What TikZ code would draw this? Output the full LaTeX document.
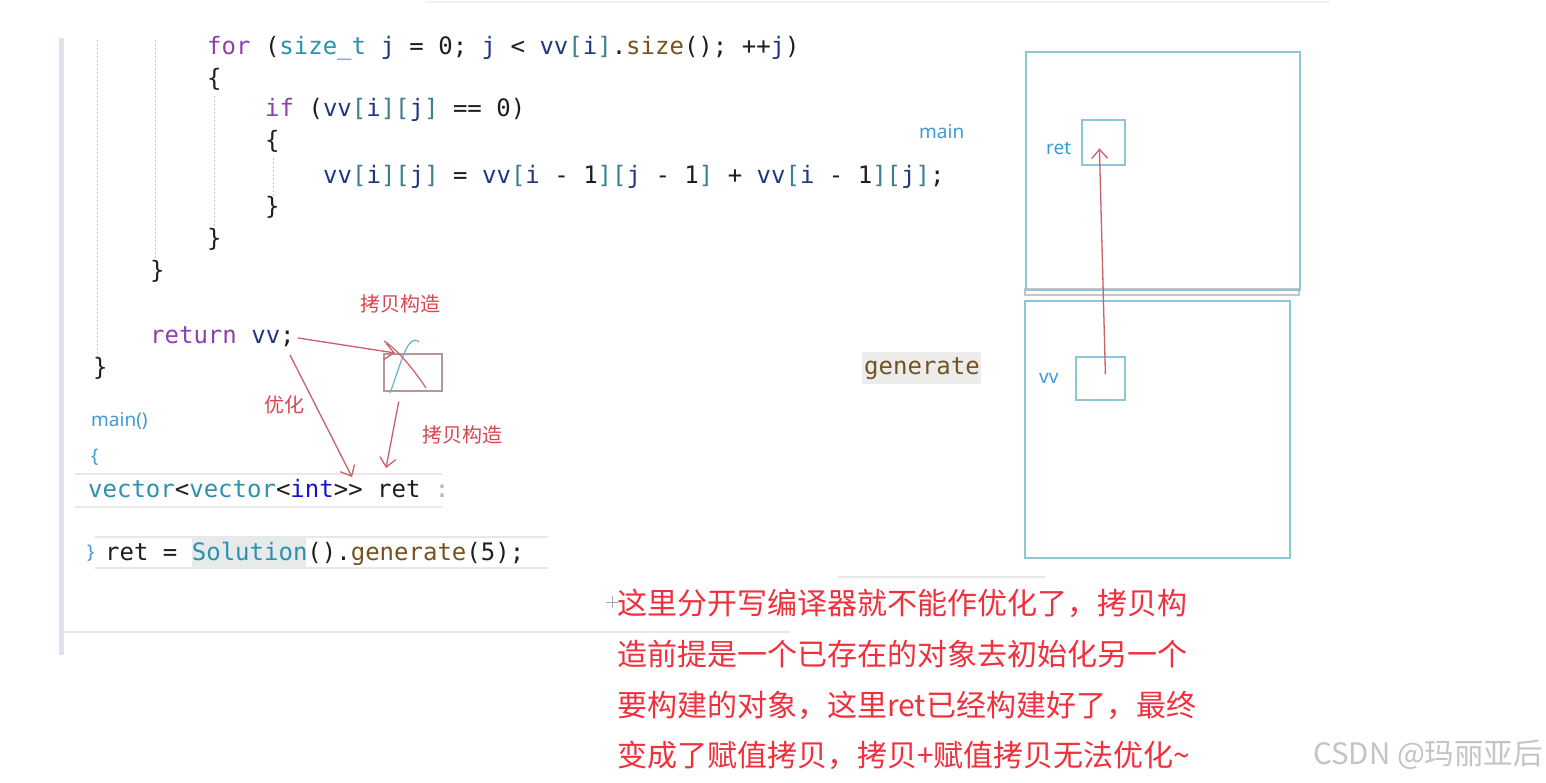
\documentclass[tikz,border=0pt]{standalone}
\usepackage{fontspec}
\setmonofont{DejaVu Sans Mono}
\newfontfamily\cjkfont{Noto Sans CJK SC}
\newfontfamily\labfont{Noto Sans}
\usetikzlibrary{arrows.meta,calc}
\definecolor{kwc}{HTML}{8F3FAF}
\definecolor{tyc}{HTML}{2B91AF}
\definecolor{vac}{HTML}{1F377F}
\definecolor{brc}{HTML}{3F7E8E}
\definecolor{intc}{HTML}{1515C8}
\definecolor{fnc}{HTML}{74531F}
\definecolor{txc}{HTML}{1E1E1E}
\definecolor{labc}{HTML}{3E9AD6}
\definecolor{boxc}{HTML}{8CC7D3}
\definecolor{penc}{HTML}{C9606C}
\definecolor{crossc}{HTML}{6AAFD0}
\definecolor{notec}{HTML}{F0303C}
\definecolor{redlab}{HTML}{D8474F}
\definecolor{guidec}{HTML}{C8C8C8}
\definecolor{rulec}{HTML}{E8E8E8}
\definecolor{barc}{HTML}{DDE3EC}
\definecolor{hlc}{HTML}{E6EAEA}
\definecolor{cboxc}{HTML}{B8959A}
\definecolor{wmc}{HTML}{C4C4C4}
\newcommand\ckw[1]{\textcolor{kwc}{#1}}
\newcommand\cty[1]{\textcolor{tyc}{#1}}
\newcommand\cva[1]{\textcolor{vac}{#1}}
\newcommand\cint[1]{\textcolor{intc}{#1}}
\newcommand\cfun[1]{\textcolor{fnc}{#1}}
\newcommand\lb{\textcolor{brc}{[}}
\newcommand\rb{\textcolor{brc}{]}}
\tikzset{
  code/.style={anchor=base west, inner sep=0pt, font=\ttfamily\fontsize{24}{28}\selectfont\frenchspacing, text=txc},
  lab/.style={anchor=west, inner sep=0pt, font=\labfont\fontsize{19}{22}\selectfont, text=labc},
  redl/.style={inner sep=0pt, font=\cjkfont\fontsize{20}{24}\selectfont, text=redlab},
  note/.style={anchor=west, inner sep=0pt, font=\cjkfont\fontsize{30}{36}\selectfont, text=notec},
  membox/.style={draw=boxc, line width=1.8pt, inner sep=0pt, anchor=north west},
  pen/.style={draw=penc, line width=1.3pt, -{Straight Barb[length=9pt,width=16pt]}},
  guide/.style={draw=guidec, line width=1pt, dash pattern=on 2pt off 2pt},
  rule/.style={draw=rulec, line width=2.5pt}
}
\begin{document}
\begin{tikzpicture}[x=1pt,y=-1pt]
\useasboundingbox (0,0) rectangle (1546,783);
\fill[white] (0,0) rectangle (1546,783);
% editor frame
\fill[barc] (59,38) rectangle (64,655);
\draw[rulec!60, line width=1.5pt] (425,2) -- (1330,2);
\draw[rule] (75,474) -- (442,474);
\draw[rule] (75,507) -- (442,507);
\draw[rule] (95,537) -- (548,537);
\draw[rule] (95,568) -- (548,568);
\draw[rule] (62,632) -- (790,632);
\draw[rule] (838,577) -- (1045,577);
% indentation guides
\draw[guide] (97,40) -- (97,358);
\draw[guide] (155,40) -- (155,262);
\draw[guide] (214,96) -- (214,232);
\draw[guide] (273,158) -- (273,198);
% code
\node[code] (l1) at (207,55) {\ckw{for} (\cty{size\_t} \cva{j} = 0; \cva{j} < \cva{vv}\lb\cva{i}\rb.\cfun{size}(); ++\cva{j})};
\node[code] (l2) at (207,87) {\{};
\node[code] (l3) at (265,117) {\ckw{if} (\cva{vv}\lb\cva{i}\rb\lb\cva{j}\rb{} == 0)};
\node[code] (l4) at (265,149) {\{};
\node[code] (l5) at (323,184) {\cva{vv}\lb\cva{i}\rb\lb\cva{j}\rb{} = \cva{vv}\lb\cva{i} - 1\rb\lb\cva{j} - 1\rb{} + \cva{vv}\lb\cva{i} - 1\rb\lb\cva{j}\rb;};
\node[code] (l6) at (265,215) {\}};
\node[code] (l7) at (207,247) {\}};
\node[code] (l8) at (150,279) {\}};
\node[code] (l9) at (150,343) {\ckw{return} \cva{vv};};
\node[code] (l10) at (93,375) {\}};
\node[lab] (mainf) at (91,421) {main()};
\node[lab] (mbrace) at (91,457) {\{};
\node[code] (decl) at (88,497) {\cty{vector}<\cty{vector}<\cint{int}>> ret \textcolor{gray!60}{:}};
\fill[hlc] (192,538) rectangle (306,568);
\node[lab] (cbrace) at (87,553) {\}};
\node[code] (assign) at (105,560) {ret = \cty{Solution}().\cfun{generate}(5);};
% annotations on code
\node[redl] (lbcopy1) at (400,304) {拷贝构造};
\node[redl] (lbopt) at (284,405) {优化};
\node[redl] (lbcopy2) at (462,435) {拷贝构造};
\node[draw=cboxc, line width=1.5pt, minimum width=58pt, minimum height=37pt, inner sep=0pt, anchor=north west] (cbox) at (383,353) {};
\coordinate (vvend) at (298,338);
\coordinate (vvlow) at (290,355);
\coordinate (retin) at (352,477);
\coordinate (retin2) at (386,468);
\draw[pen] (vvend) -- ($(cbox.north west)+(12,0)$);
\draw[pen] (vvlow) -- (retin);
\draw[pen] ($(cbox.south)+(-14,10)$) -- (retin2);
\draw[crossc, line width=1.2pt] (390,393) .. controls (398,372) and (404,348) .. (411,342) .. controls (413,340) and (416,339) .. (419,342);
\draw[penc, line width=1.2pt] (384,341) .. controls (398,350) and (414,370) .. (426,388);
% memory diagram
\node[lab] (mainlab) at (919,132) {main};
\fill[gray!15] (862,352) rectangle (981,384);
\node[code] (genlab) at (864,374) {\cfun{generate}};
\draw[gray!45, line width=1.2pt] (1025,289) rectangle (1299,295);
\node[membox, minimum width=274pt, minimum height=238pt] (mainbox) at (1025,51) {};
\node[membox, minimum width=43pt, minimum height=45pt] (retbox) at (1081,119) {};
\node[lab] (retlab) at (1046,148) {ret};
\node[membox, minimum width=265pt, minimum height=257pt] (genbox) at (1024,300) {};
\node[membox, minimum width=49pt, minimum height=43pt] (vvbox) at (1075,356) {};
\node[lab] (vvlab) at (1039,378) {vv};
\draw[pen] ($(vvbox.center)+(5,-4)$) -- ($(retbox.center)+(-4,6)$);
% note
\draw[gray!70, line width=0.8pt] (606,602) -- (618,602) (612,596) -- (612,608);
\node[note] (n1) at (617,603) {这里分开写编译器就不能作优化了，拷贝构};
\node[note] (n2) at (617,654) {造前提是一个已存在的对象去初始化另一个};
\node[note] (n3) at (617,705) {要构建的对象，这里ret已经构建好了，最终};
\node[note] (n4) at (617,755) {变成了赋值拷贝，拷贝+赋值拷贝无法优化\char"007E};
\node[anchor=west, inner sep=0pt, font=\cjkfont\fontsize{29.5}{32}\selectfont, text=wmc] (wm) at (1313,755) {CSDN @玛丽亚后};
\end{tikzpicture}
\end{document}
